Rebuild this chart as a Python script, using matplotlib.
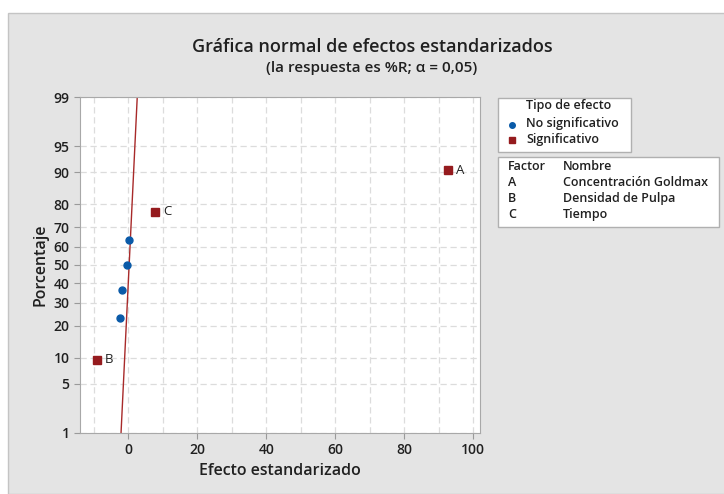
import matplotlib.pyplot as plt
from matplotlib.patches import Rectangle
from matplotlib.lines import Line2D
from statistics import NormalDist

plt.rcParams['font.family'] = ['Open Sans', 'DejaVu Sans']
plt.rcParams['font.weight'] = 'semibold'
plt.rcParams['axes.labelweight'] = 'semibold'

# efectos estandarizados
effects_ns = [-2.5, -1.9, -0.4, 0.2]
pct_ns = [23.0, 36.5, 50.0, 63.5]
effects_sig = [-9.1, 7.8, 92.7]
pct_sig = [9.5, 77.0, 90.5]
labels_sig = ['B', 'C', 'A']

# linea de ajuste
line_x = [-2.1, 2.6]
line_pct = [1, 99]

y_ticks = [1, 5, 10, 20, 30, 40, 50, 60, 70, 80, 90, 95, 99]
x_ticks = [0, 20, 40, 60, 80, 100]
factors = ['A', 'B', 'C']
names = ['Concentración Goldmax', 'Densidad de Pulpa', 'Tiempo']

blue = '#0a5aa8'
red = '#951b1e'
txt = '#202020'

nd = NormalDist()


def z(p):
    return [nd.inv_cdf(v / 100) for v in p]


W, H = 724, 494
fig = plt.figure(figsize=(W / 100, H / 100), dpi=100, facecolor='white')


def fx(px):
    return px / W


def fy(py):
    return 1 - py / H


# fondo gris
fig.patches.append(Rectangle((fx(8), 0), 1, fy(13), transform=fig.transFigure,
                             facecolor='#e4e4e4', edgecolor='#c4c4c4', lw=1, zorder=-10))

ax = fig.add_axes([fx(80), fy(433), fx(480 - 80), (433 - 97) / H])
ax.set_facecolor('white')

ax.plot(line_x, z(line_pct), color='#a82a2a', lw=1, zorder=2)
ax.plot(effects_ns, z(pct_ns), 'o', color=blue, ms=5, zorder=3)
ax.plot(effects_sig, z(pct_sig), 's', color=red, ms=6, zorder=3)
for x, y, lab in zip(effects_sig, z(pct_sig), labels_sig):
    ax.annotate(lab, (x, y), xytext=(6, 0), textcoords='offset points',
                va='center', ha='left', fontsize=9.5, color=txt, fontweight='normal')

ax.set_xlim(-14, 102)
ax.set_ylim(z([1])[0], z([99])[0])
ax.set_yticks(z(y_ticks))
ax.set_yticklabels([str(t) for t in y_ticks])
ax.set_xticks(x_ticks)
ax.set_xticks(range(-10, 101, 10), minor=True)
ax.grid(True, which='both', color='#dcdcdc', ls=(0, (5, 3)), lw=0.9)
ax.set_axisbelow(True)
ax.tick_params(which='major', labelsize=10, colors='#9a9a9a', labelcolor=txt, length=4)
ax.tick_params(which='minor', length=0)
for s in ax.spines.values():
    s.set_color('#a8a8a8')

ax.set_xlabel('Efecto estandarizado', fontsize=11.5, color=txt, labelpad=4)
ax.set_ylabel('Porcentaje', fontsize=11.5, color=txt, labelpad=4)

fig.text(fx(372), fy(47), 'Gráfica normal de efectos estandarizados',
         ha='center', va='center', fontsize=13, color=txt)
fig.text(fx(372), fy(68), '(la respuesta es %R; α = 0,05)',
         ha='center', va='center', fontsize=11, color=txt)

# leyenda tipo de efecto
fig.patches.append(Rectangle((fx(498), fy(152)), fx(631 - 498), (152 - 98) / H,
                             transform=fig.transFigure, facecolor='white',
                             edgecolor='#b0b0b0', lw=1))
fig.text(fx(526), fy(106), 'Tipo de efecto', fontsize=9, va='center', color=txt)
fig.text(fx(526), fy(123), 'No significativo', fontsize=9, va='center', color=txt)
fig.text(fx(526), fy(139), 'Significativo', fontsize=9, va='center', color=txt)
fig.lines.append(Line2D([fx(512)], [fy(125)], marker='o', color=blue, ms=4,
                        transform=fig.transFigure))
fig.lines.append(Line2D([fx(512)], [fy(140)], marker='s', color=red, ms=5,
                        transform=fig.transFigure))

# tabla de factores
fig.patches.append(Rectangle((fx(498), fy(227)), fx(719 - 498), (227 - 157) / H,
                             transform=fig.transFigure, facecolor='white',
                             edgecolor='#b0b0b0', lw=1))
fig.text(fx(508), fy(166), 'Factor', fontsize=9, va='center', color=txt)
fig.text(fx(563), fy(166), 'Nombre', fontsize=9, va='center', color=txt)
for i, (f, n) in enumerate(zip(factors, names)):
    yy = fy(182 + i * 16.3)
    fig.text(fx(508), yy, f, fontsize=9, va='center', color=txt)
    fig.text(fx(563), yy, n, fontsize=9, va='center', color=txt)

fig.savefig('out.png', dpi=100)
